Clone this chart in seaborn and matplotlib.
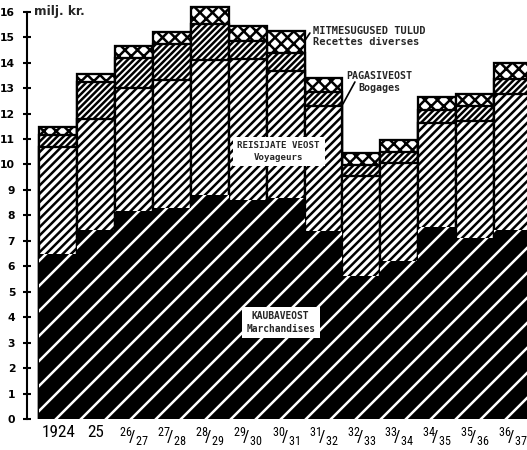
import matplotlib
matplotlib.use("Agg")
import matplotlib.pyplot as plt
from matplotlib import font_manager
import seaborn as sns
import pandas as pd

# ---- data (million kroons) ----
years = ["1924", "25", "26/27", "27/28", "28/29", "29/30", "30/31",
         "31/32", "32/33", "33/34", "34/35", "35/36", "36/37"]
kaubaveost = [6.48, 7.43, 8.18, 8.30, 8.81, 8.60, 8.67, 7.40, 5.62, 6.22, 7.55, 7.10, 7.43]
reisijate_veost = [4.22, 4.35, 4.82, 5.02, 5.29, 5.55, 5.02, 4.90, 3.93, 3.83, 4.09, 4.62, 5.34]
pagasiveost = [0.45, 1.46, 1.17, 1.40, 1.42, 0.71, 0.68, 0.56, 0.42, 0.44, 0.50, 0.58, 0.58]
mitmesugused = [0.31, 0.32, 0.49, 0.47, 0.66, 0.58, 0.88, 0.55, 0.47, 0.47, 0.52, 0.47, 0.63]
yticks = list(range(0, 17))

names = {f.name for f in font_manager.fontManager.ttflist}

def pick(cands):
    for c in cands:
        if c in names:
            return c
    return cands[-1]

narrow = pick(["Roboto Condensed", "Archivo Narrow", "PT Sans Narrow",
               "Liberation Sans Narrow", "DejaVu Sans"])
mono = "DejaVu Sans Mono"

def tick_label(y):
    if "/" in y:
        a, b = y.split("/")
        return r"$\mathregular{^{%s}\!/_{%s}}$" % (a, b)
    return y

sns.set_theme(style="white")
plt.rcParams["hatch.linewidth"] = 1.2
plt.rcParams["mathtext.fontset"] = "custom"
plt.rcParams["mathtext.rm"] = narrow
plt.rcParams["font.family"] = ["DejaVu Sans"]

df = pd.DataFrame({
    "year": years,
    "k": kaubaveost,
    "r": reisijate_veost,
    "p": pagasiveost,
    "m": mitmesugused,
})
df["c1"] = df["k"]
df["c2"] = df["c1"] + df["r"]
df["c3"] = df["c2"] + df["p"]
df["c4"] = df["c3"] + df["m"]

DPI = 150
fig = plt.figure(figsize=(527 / DPI, 450 / DPI), dpi=DPI)
ax = fig.add_axes([26.7 / 527, 31 / 450, 1 - 26.7 / 527, 417.4 / 450])

layers = [
    ("c4", "white", "black", "xxxx", 1.1),
    ("c3", "white", "black", "////////", 1.1),
    ("c2", "white", "black", "//////", 1.1),
    ("c1", "black", "white", "//", 0),
]
for col, fc, ec, hatch, lw in layers:
    sns.barplot(data=df, x="year", y=col, order=years, width=1.0, ax=ax,
                errorbar=None, saturation=1, color=fc, edgecolor=ec,
                hatch=hatch, linewidth=lw)

ax.set_xlim(-0.83, 12.37)
ax.set_ylim(0, 16.4)
ax.set_xlabel("")
ax.set_ylabel("")

for s in ["top", "right", "bottom"]:
    ax.spines[s].set_visible(False)
ax.spines["left"].set_bounds(0, 16)
ax.spines["left"].set_linewidth(1.0)
ax.spines["left"].set_color("black")

ax.set_yticks(yticks)
ax.set_yticklabels([str(t) for t in yticks], fontsize=5.2, fontweight="bold")
ax.tick_params(axis="y", direction="inout", length=4, width=1.0, pad=3.5, colors="black", left=True)
ax.set_xticks(range(len(years)))
ax.set_xticklabels([tick_label(y) for y in years], fontsize=8.3, family=narrow)
ax.tick_params(axis="x", length=0, pad=3, colors="black")

ax.text(-0.64, 16, "milj. kr.", fontsize=5.8, fontweight="bold", va="center", ha="left")

ax.text(5.82, 10.51, "REISIJATE VEOST\nVoyageurs", family=mono, fontweight="bold",
        fontsize=4.4, ha="center", va="center", linespacing=1.3,
        bbox=dict(facecolor="white", edgecolor="none", pad=2.2))
ax.text(5.87, 3.79, "KAUBAVEOST\nMarchandises", family=mono, fontweight="bold",
        fontsize=4.6, ha="center", va="center", linespacing=1.3,
        bbox=dict(facecolor="white", edgecolor="none", pad=2.2))

def px2data(px, py):
    return (px - 39.3) / 37.9 - 0.5, (419 - py) / 25.45

tx, ty = px2data(313, 36.5)
ax.text(tx, ty, "MITMESUGUSED TULUD\nRecettes diverses", family=mono, fontweight="bold",
        fontsize=5.0, ha="left", va="center", linespacing=1.2)
x1, y1 = px2data(310, 33)
x2, y2 = px2data(304, 42)
ax.plot([x1, x2], [y1, y2], color="black", lw=0.8)

tx, ty = px2data(379, 82)
ax.text(tx, ty, "PAGASIVEOST\nBogages", family=mono, fontweight="bold",
        fontsize=4.8, ha="center", va="center", linespacing=1.2)
x1, y1 = px2data(355, 82)
x2, y2 = px2data(343, 104)
ax.plot([x1, x2], [y1, y2], color="black", lw=0.8)

fig.savefig("out.png", dpi=DPI)
